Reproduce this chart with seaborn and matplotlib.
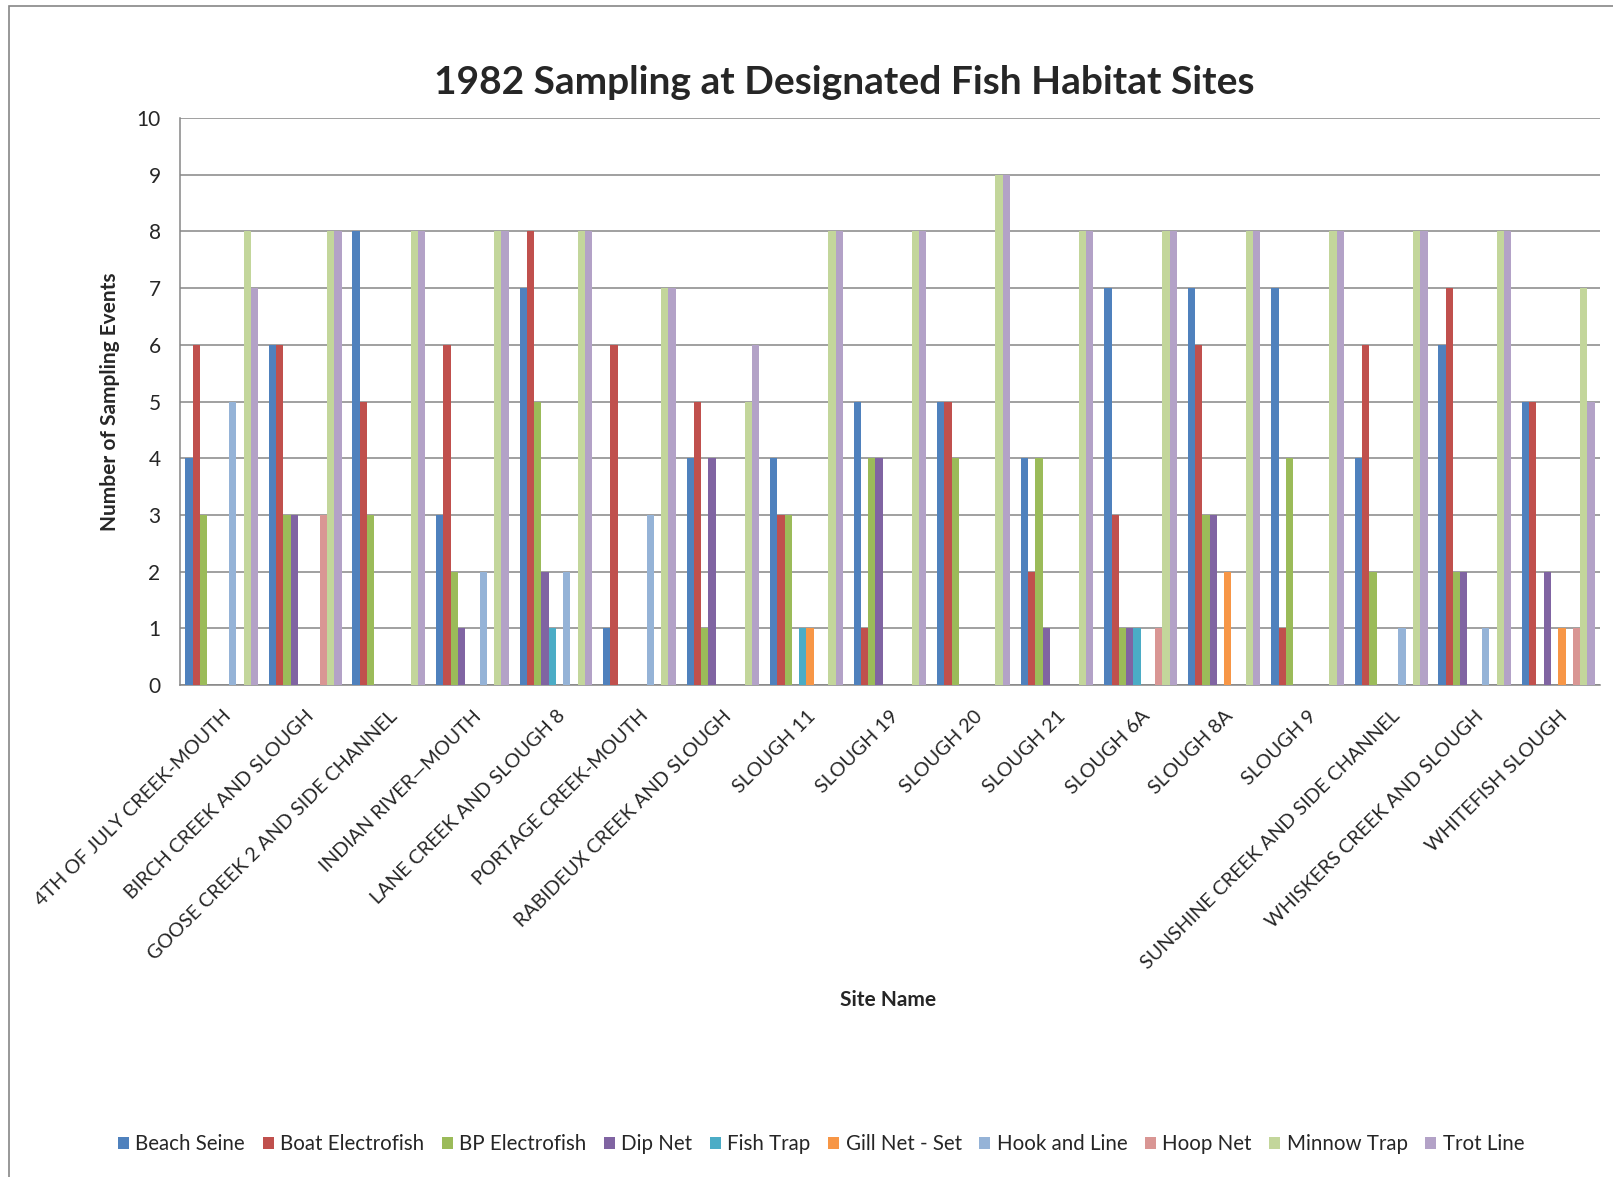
import seaborn as sns
import matplotlib.pyplot as plt
import numpy as np
import pandas as pd
from matplotlib.patches import Patch, Rectangle

sites = ['4TH OF JULY CREEK-MOUTH', 'BIRCH CREEK AND SLOUGH', 'GOOSE CREEK 2 AND SIDE CHANNEL',
         'INDIAN RIVER\u2014MOUTH', 'LANE CREEK AND SLOUGH 8', 'PORTAGE CREEK-MOUTH',
         'RABIDEUX CREEK AND SLOUGH', 'SLOUGH 11', 'SLOUGH 19', 'SLOUGH 20', 'SLOUGH 21',
         'SLOUGH 6A', 'SLOUGH 8A', 'SLOUGH 9', 'SUNSHINE CREEK AND SIDE CHANNEL',
         'WHISKERS CREEK AND SLOUGH', 'WHITEFISH SLOUGH']

methods = ['Beach Seine', 'Boat Electrofish', 'BP Electrofish', 'Dip Net', 'Fish Trap',
           'Gill Net - Set', 'Hook and Line', 'Hoop Net', 'Minnow Trap', 'Trot Line']

beach_seine      = [4, 6, 8, 3, 7, 1, 4, 4, 5, 5, 4, 7, 7, 7, 4, 6, 5]
boat_electrofish = [6, 6, 5, 6, 8, 6, 5, 3, 1, 5, 2, 3, 6, 1, 6, 7, 5]
bp_electrofish   = [3, 3, 3, 2, 5, 0, 1, 3, 4, 4, 4, 1, 3, 4, 2, 2, 0]
dip_net          = [0, 3, 0, 1, 2, 0, 4, 0, 4, 0, 1, 1, 3, 0, 0, 2, 2]
fish_trap        = [0, 0, 0, 0, 1, 0, 0, 1, 0, 0, 0, 1, 0, 0, 0, 0, 0]
gill_net_set     = [0, 0, 0, 0, 0, 0, 0, 1, 0, 0, 0, 0, 2, 0, 0, 0, 1]
hook_and_line    = [5, 0, 0, 2, 2, 3, 0, 0, 0, 0, 0, 0, 0, 0, 1, 1, 0]
hoop_net         = [0, 3, 0, 0, 0, 0, 0, 0, 0, 0, 0, 1, 0, 0, 0, 0, 1]
minnow_trap      = [8, 8, 8, 8, 8, 7, 5, 8, 8, 9, 8, 8, 8, 8, 8, 8, 7]
trot_line        = [7, 8, 8, 8, 8, 7, 6, 8, 8, 9, 8, 8, 8, 8, 8, 8, 5]

colors = ['#4F81BD', '#C0504D', '#9BBB59', '#8064A2', '#4BACC6',
          '#F79646', '#95B3D7', '#D99694', '#C3D69B', '#B3A2C7']

series = [beach_seine, boat_electrofish, bp_electrofish, dip_net, fish_trap,
          gill_net_set, hook_and_line, hoop_net, minnow_trap, trot_line]
rows = []
for m, vals in zip(methods, series):
    for s, v in zip(sites, vals):
        rows.append({'site': s, 'method': m, 'count': v})
df = pd.DataFrame(rows)

sns.set_style('white')
plt.rcParams['font.family'] = ['Lato', 'DejaVu Sans']

fig = plt.figure(figsize=(16.13, 11.77), dpi=100)
ax = fig.add_axes([180 / 1613, 1 - 685 / 1177, 1420 / 1613, 567 / 1177])

sns.barplot(data=df, x='site', y='count', hue='method', hue_order=methods,
            order=sites, palette=colors, saturation=1, width=0.87,
            errorbar=None, ax=ax, legend=False, linewidth=0, zorder=3)

ax.set_ylim(0, 10)
ax.set_xlim(-0.5, len(sites) - 0.5)
ax.set_yticks(range(0, 11))
ax.yaxis.grid(True, color='#868686', linewidth=1.1, zorder=0)
ax.set_axisbelow(True)
for sp in ['top', 'right']:
    ax.spines[sp].set_visible(False)
for sp in ['left', 'bottom']:
    ax.spines[sp].set_color('#868686')
    ax.spines[sp].set_linewidth(1.1)

ax.tick_params(axis='y', length=6, color='#868686', labelsize=15, pad=8)
ax.set_xticks(np.arange(len(sites)))
ax.set_xticklabels(sites, rotation=45, ha='right', rotation_mode='anchor', fontsize=14.2)
ax.tick_params(axis='x', which='major', length=0, pad=16)
ax.set_xticks(np.arange(-0.5, len(sites)), minor=True)
ax.tick_params(axis='x', which='minor', length=6, color='#868686')
ax.set_xlabel('')
ax.set_ylabel('Number of Sampling Events', fontsize=15, fontweight='bold', labelpad=12)

fig.text(844 / 1613, 1 - 82 / 1177, '1982 Sampling at Designated Fish Habitat Sites',
         ha='center', va='center', fontsize=28, fontweight='bold')
fig.text(888 / 1613, 1 - 1000 / 1177, 'Site Name', ha='center', va='center',
         fontsize=15, fontweight='bold')

handles = [Patch(facecolor=c, edgecolor='none') for c in colors]
fig.legend(handles, methods, loc='center', bbox_to_anchor=(821 / 1613, 1 - 1144 / 1177),
           ncol=10, frameon=False, fontsize=14.8, handlelength=0.55, handleheight=0.55,
           handletextpad=0.3, columnspacing=0.85)

fig.patches.append(Rectangle((9 / 1613, -0.01), 1.02, 1 - 6 / 1177 + 0.01,
                             transform=fig.transFigure, fill=False,
                             edgecolor='#868686', linewidth=1.2))

fig.savefig('out.png', dpi=100)
